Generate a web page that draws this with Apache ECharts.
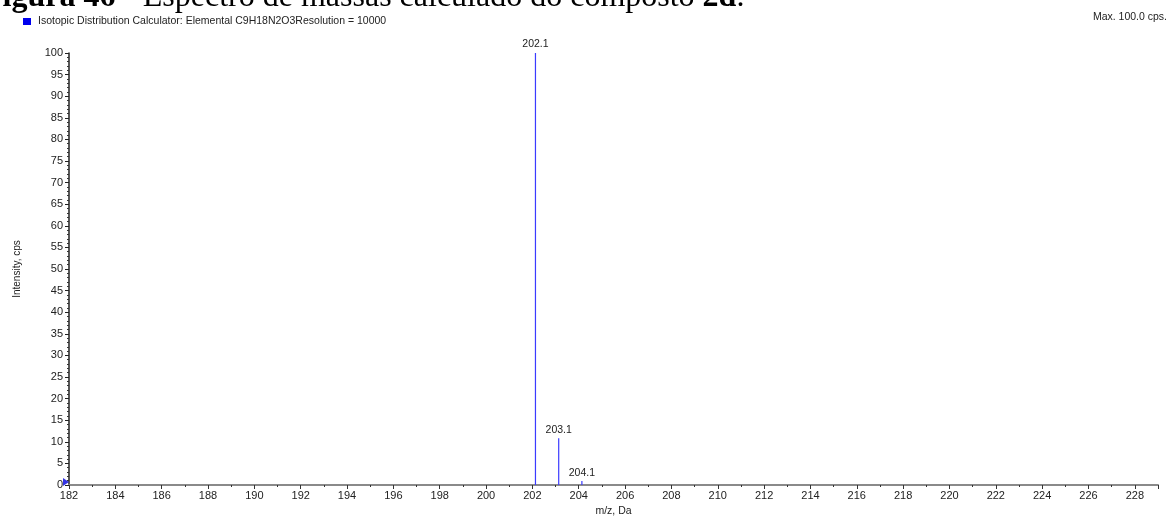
<!DOCTYPE html>
<html>
<head>
<meta charset="utf-8">
<script src="https://cdn.jsdelivr.net/npm/echarts@6/dist/echarts.min.js"></script>
<style>
  html, body { margin: 0; padding: 0; background: #fff; }
  #chart { width: 1168px; height: 522px; }
</style>
</head>
<body>
<div id="chart"></div>
<script>
// Calculated isotope pattern for C9H18N2O3
const seriesName = 'Isotopic Distribution Calculator: Elemental C9H18N2O3Resolution = 10000';
const peakMz = [202.132, 203.135, 204.136];
const peakIntensity = [100, 10.8, 0.9];
const xRange = [182, 229];
const yRange = [0, 100];
const maxLabel = 'Max. 100.0 cps.';

const FONT = 'Liberation Sans, Arial, sans-serif';
const SERIF = 'Liberation Serif, Times New Roman, serif';
const STICK_COLOR = '#3b3bff';
const peaks = peakMz.map((mz, i) => [mz, peakIntensity[i]]);

const chart = echarts.init(document.getElementById('chart'), null, { renderer: 'canvas' });

// Each peak is a thin vertical stick with its m/z printed above it
function renderStick(params, api) {
  const mz = api.value(0);
  const base = api.coord([mz, 0]);
  const tip = api.coord([mz, api.value(1)]);
  const w = 1.2;
  return {
    type: 'group',
    children: [
      {
        type: 'rect',
        shape: { x: base[0] - w / 2, y: tip[1], width: w, height: base[1] - tip[1] },
        style: { fill: STICK_COLOR }
      },
      {
        type: 'text',
        x: tip[0], y: tip[1] - 3,
        style: {
          text: mz.toFixed(1),
          font: '10.5px ' + FONT, fill: '#222',
          align: 'center', verticalAlign: 'bottom'
        }
      }
    ]
  };
}

chart.setOption({
  animation: false,
  backgroundColor: '#ffffff',
  textStyle: { fontFamily: FONT },
  grid: { left: 69, right: 10, top: 53, bottom: 32, containLabel: false },
  legend: {
    left: 18, top: 11,
    icon: 'rect', itemWidth: 8, itemHeight: 7, itemGap: 6,
    data: [{ name: seriesName, itemStyle: { color: '#0000ee' } }],
    textStyle: { fontFamily: FONT, fontSize: 10.5, color: '#222', padding: [0, 0, 0, 2] }
  },
  graphic: [
    {
      type: 'text', x: -17, y: -18, silent: true,
      style: {
        text: '{b|Figura 46} {r|– Espectro de massas calculado do composto }{b|2d}{r|.}',
        rich: {
          b: { fontFamily: SERIF, fontSize: 32, fontWeight: 'bold', fill: '#000' },
          r: { fontFamily: SERIF, fontSize: 32, fill: '#000' }
        }
      }
    },
    {
      type: 'text', right: 1, top: 12, silent: true,
      style: { text: maxLabel, font: '10.5px ' + FONT, fill: '#222' }
    }
  ],
  xAxis: {
    type: 'value', min: xRange[0], max: xRange[1], interval: 2,
    name: 'm/z, Da', nameLocation: 'middle', nameGap: 21,
    nameTextStyle: { fontFamily: FONT, fontSize: 10.5, color: '#222' },
    axisLine: { onZero: false, lineStyle: { color: '#8a8a8a', width: 2 } },
    axisTick: { show: true, length: 4, lineStyle: { color: '#333' } },
    minorTick: { show: true, splitNumber: 2, length: 2, lineStyle: { color: '#333' } },
    axisLabel: {
      fontFamily: FONT, fontSize: 11, color: '#222', margin: 5,
      showMaxLabel: false,
      formatter: v => (v % 2 === 0 ? String(v) : '')
    },
    splitLine: { show: false }
  },
  yAxis: {
    type: 'value', min: yRange[0], max: yRange[1], interval: 5,
    name: 'Intensity, cps', nameLocation: 'middle', nameGap: 47, nameRotate: 90,
    nameTextStyle: { fontFamily: FONT, fontSize: 10, color: '#222' },
    axisLine: { show: true, lineStyle: { color: '#222', width: 1.5 } },
    axisTick: { show: true, length: 4, lineStyle: { color: '#222' } },
    minorTick: { show: true, splitNumber: 5, length: 2, lineStyle: { color: '#333' } },
    axisLabel: { fontFamily: FONT, fontSize: 11, color: '#222', margin: 6 },
    splitLine: { show: false }
  },
  series: [
    {
      name: seriesName,
      type: 'custom',
      data: peaks,
      renderItem: renderStick,
      itemStyle: { color: STICK_COLOR },
      encode: { x: 0, y: 1 },
      clip: false
    },
    {
      name: 'origin',
      type: 'scatter',
      data: [[xRange[0], yRange[0]]],
      symbol: 'triangle', symbolRotate: -90, symbolSize: [8, 6],
      symbolOffset: [-3, -3],
      itemStyle: { color: '#0000dd' },
      clip: false, silent: true, z: 5
    }
  ]
});
</script>
</body>
</html>
